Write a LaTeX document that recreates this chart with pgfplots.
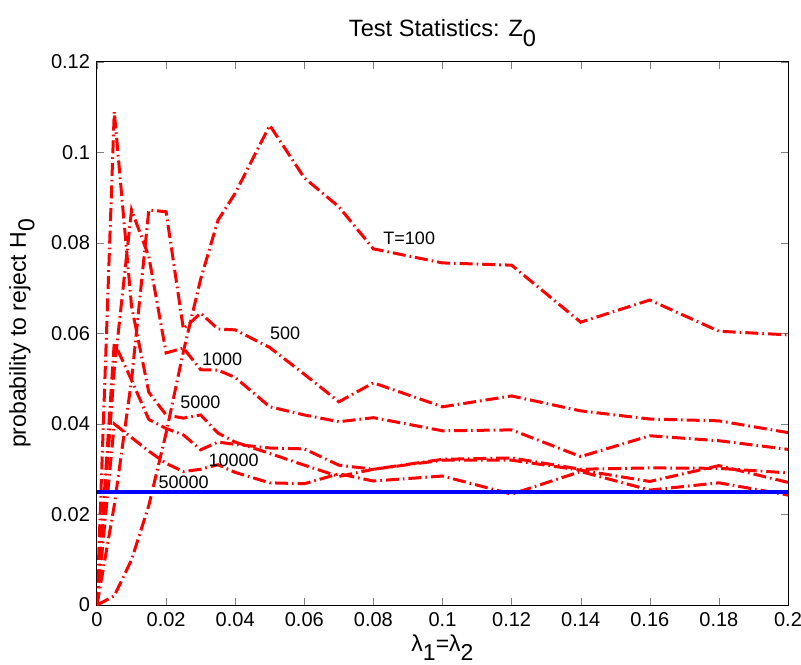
\documentclass[border=0pt]{standalone}
\usepackage{fontspec}
\setmainfont{Liberation Sans}
\usepackage{pgfplots}
\usepackage{pgfplotstable}
\pgfplotsset{compat=1.18}
\usetikzlibrary{calc}

% rejection probabilities, one column per sample size T
\pgfplotstableread{
x      t100    t500    t1000   t5000   t10000  t50000
0      0       0       0       0       0       0
0.005  0.002   0.022   0.052   0.109   0.058   0.040
0.01   0.010   0.0497  0.0873  0.066   0.0497  0.037
0.015  0.022   0.0873  0.077   0.047   0.041   0.034
0.02   0.038   0.0869  0.0557  0.042   0.039   0.0313
0.025  0.056   0.061   0.0568  0.0413  0.0376  0.0295
0.03   0.072   0.0645  0.052   0.042   0.0343  0.030
0.035  0.085   0.061   0.0519  0.038   0.036   0.031
0.04   0.091   0.0608  0.0503  0.036   0.0355  0.0293
0.05   0.106   0.0569  0.0438  0.0335  0.0347  0.027
0.06   0.0944  0.051   0.042   0.0309  0.0345  0.0268
0.07   0.088   0.0449  0.0405  0.0284  0.0309  0.029
0.08   0.0787  0.0491  0.0414  0.030   0.030   0.0274
0.1    0.0756  0.0438  0.0385  0.0322  0.032   0.0285
0.12   0.0751  0.0462  0.0387  0.0325  0.032   0.0245
0.14   0.0625  0.0429  0.0328  0.0300  0.0298  0.0295
0.16   0.0674  0.0411  0.0374  0.0303  0.0273  0.0254
0.18   0.0605  0.0407  0.0363  0.0302  0.0308  0.027
0.2    0.0597  0.0381  0.0344  0.0292  0.0271  0.0243
}\rejtab

\tikzset{
  rline/.style={color=red, line width=1.5pt, dash pattern=on 6.5pt off 2pt on 0.8pt off 2pt},
  clab/.style={font=\fontsize{9}{10}\selectfont, anchor=west, inner sep=0pt}
}

\begin{document}
\begin{tikzpicture}
\begin{axis}[
  scale only axis, width=345.5pt, height=271.5pt,
  xmin=0, xmax=0.2, ymin=0, ymax=0.12,
  xtick={0,0.02,0.04,0.06,0.08,0.1,0.12,0.14,0.16,0.18,0.2},
  xticklabels={0,0.02,0.04,0.06,0.08,0.1,0.12,0.14,0.16,0.18,0.2},
  ytick={0,0.02,0.04,0.06,0.08,0.1,0.12},
  yticklabels={0,0.02,0.04,0.06,0.08,0.1,0.12},
  tick align=inside, major tick length=3.5pt,
  tick label style={font=\fontsize{10}{12}\selectfont},
  axis line style={line width=0.5pt},
  title={Test Statistics: Z\raisebox{-0.8ex}{0}},
  title style={font=\fontsize{11.8}{13}\selectfont, at={(axis description cs:0.5,1.024)}, anchor=base},
  xlabel={λ\raisebox{-0.7ex}{1}=λ\raisebox{-0.7ex}{2}},
  xlabel style={font=\fontsize{11.5}{13}\selectfont, at={(axis description cs:0.5,-0.086)}, anchor=base},
  ylabel={probability to reject H\raisebox{-0.7ex}{0}},
  ylabel style={font=\fontsize{11.5}{13}\selectfont, at={(axis description cs:-0.1085,0.5)}, anchor=center},
]
\addplot[rline] table[x=x, y=t100] {\rejtab};
\addplot[rline] table[x=x, y=t500] {\rejtab};
\addplot[rline] table[x=x, y=t1000] {\rejtab};
\addplot[rline] table[x=x, y=t5000] {\rejtab};
\addplot[rline] table[x=x, y=t10000] {\rejtab};
\addplot[rline] table[x=x, y=t50000] {\rejtab};
\addplot[blue, line width=2pt] coordinates {(0,0.025) (0.2,0.025)};

\node[clab] at (axis cs:0.0828,0.0811) {T=100};
\node[clab] at (axis cs:0.050,0.0601) {500};
\node[clab] at (axis cs:0.0303,0.0543) {1000};
\node[clab] at (axis cs:0.024,0.0449) {5000};
\node[clab] at (axis cs:0.0322,0.0319) {10000};
\node[clab] at (axis cs:0.0177,0.0272) {50000};

\coordinate (SW) at (rel axis cs:0,0);
\coordinate (NE) at (rel axis cs:1,1);
\end{axis}
\pgfresetboundingbox
\path[use as bounding box] ($(SW)+(-48.5pt,-29.5pt)$) rectangle ($(NE)+(6.5pt,31pt)$);
\end{tikzpicture}
\end{document}
